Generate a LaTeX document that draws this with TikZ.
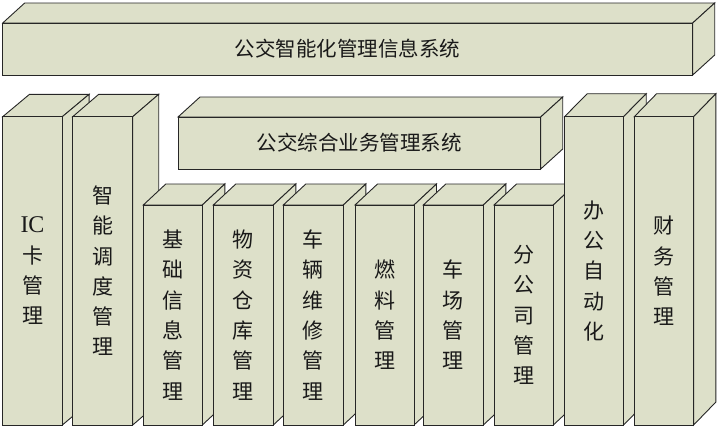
\documentclass[tikz,border=0pt]{standalone}
\usepackage{fontspec}
\setmainfont{Liberation Serif}
\newfontfamily\cjk{Noto Sans CJK SC}
\newfontfamily\latserif{Liberation Serif}
\definecolor{boxfill}{RGB}{221,224,201}
\tikzset{
  face/.style={fill=boxfill,draw=black!85,line width=0.9bp,line join=miter},
  htext/.style={font=\cjk\fontsize{20.5bp}{24bp}\selectfont,text=black!90,inner sep=0pt},
  vtext/.style={font=\cjk\fontsize{21bp}{30.3bp}\selectfont,text=black!90,align=center,inner sep=0pt},
}
% name, x, y(top of front), w, h, dx, dy, style, text
\newcommand\cuboid[9]{%
  \path[face] (#2,#3) -- ({#2+#6},{#3-#7}) -- ({#2+#4+#6},{#3-#7}) -- ({#2+#4},#3) -- cycle;
  \path[face] ({#2+#4},#3) -- ({#2+#4+#6},{#3-#7}) -- ({#2+#4+#6},{#3+#5-#7}) -- ({#2+#4},{#3+#5}) -- cycle;
  \path[face] (#2,#3) rectangle ({#2+#4},{#3+#5});
  \node[#8] (#1) at ({#2+#4/2},{#3+#5/2}) {#9};
}
\begin{document}
\begin{tikzpicture}[x=1bp,y=-1bp]
\useasboundingbox (0,0) rectangle (720,429);
\cuboid{top}{2.7}{23}{690}{52}{22}{20}{htext}{公交智能化管理信息系统}
\cuboid{ic}{2.7}{116.7}{59.6}{308.3}{26.8}{22.4}{vtext}{{\latserif\fontsize{24bp}{26bp}\selectfont IC}\\卡\\管\\理}
\cuboid{zn}{72.7}{116.7}{60}{308.3}{26}{22.4}{vtext}{智\\能\\调\\度\\管\\理}
\cuboid{mid}{178}{117}{362.7}{52}{22}{20}{htext}{公交综合业务管理系统}
\cuboid{jc}{143.3}{205}{59}{220}{22.5}{21}{vtext}{基\\础\\信\\息\\管\\理}
\cuboid{wz}{213.3}{205}{60}{220}{22.5}{21}{vtext}{物\\资\\仓\\库\\管\\理}
\cuboid{cl}{283.3}{205}{60}{220}{22.5}{21}{vtext}{车\\辆\\维\\修\\管\\理}
\cuboid{rl}{355}{205}{59}{220}{22.5}{21}{vtext}{燃\\料\\管\\理}
\cuboid{cc}{423.3}{205}{60}{220}{22.5}{21}{vtext}{车\\场\\管\\理}
\cuboid{fgs}{494}{205}{59.3}{220}{22.5}{21}{vtext}{分\\公\\司\\管\\理}
\cuboid{bg}{564.5}{116.7}{59}{308.3}{22.7}{23}{vtext}{办\\公\\自\\动\\化}
\cuboid{cw}{634.3}{116.7}{59.3}{308.3}{22.3}{23}{vtext}{财\\务\\管\\理}
\end{tikzpicture}
\end{document}
